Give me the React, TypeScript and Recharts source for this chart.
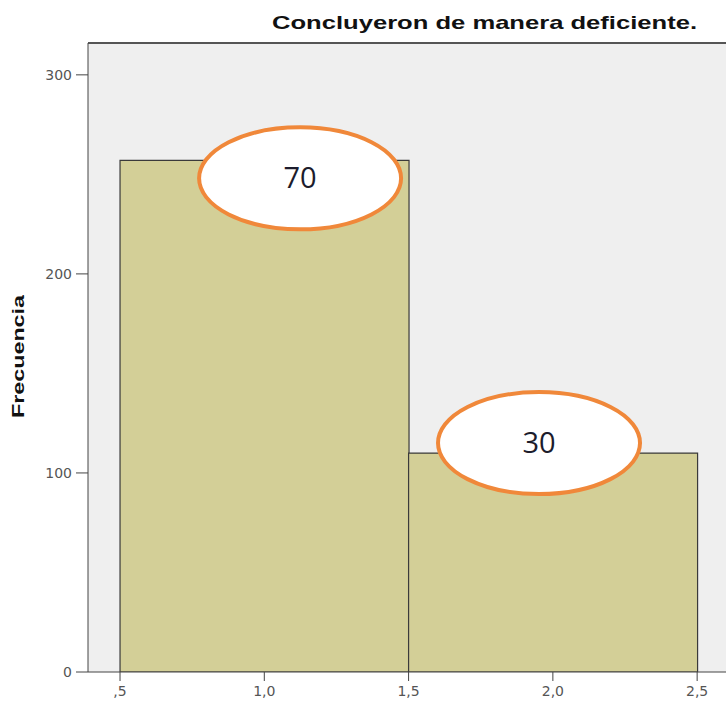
import React from "react";
import {
  ComposedChart,
  Bar,
  XAxis,
  YAxis,
  CartesianGrid,
  ReferenceDot,
  ReferenceLine,
  Customized,
} from "recharts";

const binCenters = [1.0, 2.0];
const frequencies = [257, 110];
const xTickValues = [0.5, 1.0, 1.5, 2.0, 2.5];
const xTickLabels = [",5", "1,0", "1,5", "2,0", "2,5"];
const yTickValues = [0, 100, 200, 300];
const annotationLabels = ["70", "30"];
const annotationX = [1.124, 1.952];
const annotationY = [248, 115];
const title = "Concluyeron de manera deficiente.";
const yLabel = "Frecuencia";

const xDomain = [0.389, 2.6];
const yDomain = [0, 316];

const data = binCenters.map((x, i) => ({ x, freq: frequencies[i] }));

const TICK_FONT = "'DejaVu Sans', sans-serif";

const Ellipse = (props: any) => {
  const { cx, cy, label } = props;
  if (cx == null || cy == null) return null;
  return (
    <g>
      <ellipse cx={cx} cy={cy} rx={101} ry={51} fill="#ffffff" stroke="#f0883a" strokeWidth={4} />
      <text
        x={cx}
        y={cy - 2}
        textAnchor="middle"
        dominantBaseline="central"
        fontFamily="'Open Sans', sans-serif"
        fontSize={29}
        fill="#1c1c2c"
      >
        {label}
      </text>
    </g>
  );
};

const XTick = (props: any) => {
  const { x, y, payload } = props;
  const idx = xTickValues.indexOf(payload.value);
  return (
    <text
      x={x}
      y={y + 13}
      textAnchor="middle"
      fontFamily={TICK_FONT}
      fontSize={14}
      fill="#555"
    >
      {idx >= 0 ? xTickLabels[idx] : String(payload.value)}
    </text>
  );
};

const YTick = (props: any) => {
  const { x, y, payload } = props;
  return (
    <text
      x={x - 2}
      y={y}
      textAnchor="end"
      dominantBaseline="central"
      fontFamily={TICK_FONT}
      fontSize={14}
      fill="#555"
    >
      {payload.value}
    </text>
  );
};

const Title = () => (
  <text
    x={484.5}
    y={22}
    textAnchor="middle"
    dominantBaseline="central"
    fontFamily="'Liberation Sans', Arial, sans-serif"
    fontWeight="bold"
    fontSize={19}
    textLength={425}
    lengthAdjust="spacingAndGlyphs"
    fill="#111"
  >
    {title}
  </text>
);

const YTitle = () => (
  <text
    x={18}
    y={356.5}
    transform="rotate(-90 18 356.5)"
    textAnchor="middle"
    dominantBaseline="central"
    fontFamily="'Liberation Sans', Arial, sans-serif"
    fontWeight="bold"
    fontSize={16}
    textLength={123}
    lengthAdjust="spacingAndGlyphs"
    fill="#111"
  >
    {yLabel}
  </text>
);

export default function App() {
  return (
    <div style={{ position: "absolute", left: 0, top: 0, width: 726, height: 704, background: "#fff" }}>
      <ComposedChart
        width={726}
        height={704}
        data={data}
        margin={{ top: 43, right: 0, bottom: 0, left: 0 }}
        barCategoryGap={0}
        barGap={0}
      >
        <CartesianGrid fill="#efefef" stroke="none" horizontal={false} vertical={false} />
        <XAxis
          dataKey="x"
          type="number"
          domain={xDomain}
          ticks={xTickValues}
          height={32}
          tickSize={9}
          stroke="#444"
          tick={<XTick />}
          allowDataOverflow
        />
        <YAxis
          type="number"
          domain={yDomain}
          ticks={yTickValues}
          width={88}
          tickSize={12}
          stroke="#444"
          tick={<YTick />}
          allowDataOverflow
        />
        <Bar
          dataKey="freq"
          fill="#d3cf97"
          stroke="#3a3a3a"
          strokeWidth={1.2}
          isAnimationActive={false}
        />
        <ReferenceLine y={yDomain[1]} stroke="#555" strokeWidth={2} />
        {annotationLabels.map((lab, i) => (
          <ReferenceDot
            key={lab}
            x={annotationX[i]}
            y={annotationY[i]}
            shape={(p: any) => <Ellipse {...p} label={lab} />}
          />
        ))}
        <Customized component={Title} />
        <Customized component={YTitle} />
      </ComposedChart>
    </div>
  );
}
